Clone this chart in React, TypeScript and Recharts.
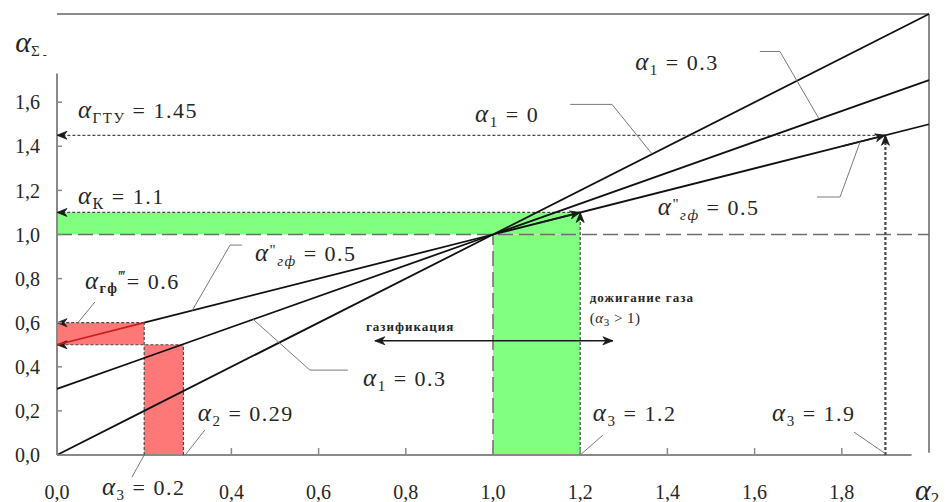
import React from 'react';
import { LineChart, Line, XAxis, YAxis, ReferenceArea, ReferenceLine, ReferenceDot } from 'recharts';

// ---- data ----
const xValues = [0, 0.2, 1, 2];
const lineAlpha1Zero = [0, 0.2, 1, 2];
const lineAlpha1Point3 = [0.3, 0.44, 1, 1.7];
const lineGf = [null, 0.6, 1, 1.5];
const lineGfRed = [0.5, 0.6, null, null];

const xTicks = [0, 0.4, 0.6, 0.8, 1.0, 1.2, 1.4, 1.6, 1.8];
const yTicks = [0, 0.2, 0.4, 0.6, 0.8, 1.0, 1.2, 1.4, 1.6];

const greenAreas = [
  { x1: 0, x2: 1.2, y1: 1.0, y2: 1.1 },
  { x1: 1.0, x2: 1.2, y1: 0, y2: 1.0 },
];
const redAreas = [
  { x1: 0, x2: 0.2, y1: 0.5, y2: 0.6 },
  { x1: 0.2, x2: 0.29, y1: 0, y2: 0.5 },
];

// dotted guides: [from, to], arrow head at "to" when head = true
const dottedGuides = [
  { p: [[1.9, 1.45], [0, 1.45]], head: true, w: 1.2 },
  { p: [[1.2, 1.1], [0, 1.1]], head: true, w: 1.2 },
  { p: [[0.2, 0.6], [0, 0.6]], head: true, w: 1.2 },
  { p: [[0.29, 0.5], [0, 0.5]], head: true, w: 1.2 },
  { p: [[1.9, 0], [1.9, 1.45]], head: true, w: 2.2 },
  { p: [[1.2, 0], [1.2, 1.1]], head: true, w: 1.2 },
  { p: [[0.2, 0], [0.2, 0.6]], head: false, w: 1.2 },
  { p: [[0.29, 0], [0.29, 0.5]], head: false, w: 1.2 },
];

const solidArrows = [
  { p: [[1.1, 1.05], [1.2, 1.1]], both: false },
  { p: [[1.8, 1.4], [1.9, 1.45]], both: false },
  { p: [[0.729, 0.518], [1.275, 0.518]], both: true },
];

const leaders = [
  [[1.177, 1.59], [1.273, 1.59], [1.365, 1.365]],
  [[1.612, 1.83], [1.658, 1.83], [1.748, 1.524]],
  [[1.743, 1.17], [1.796, 1.17], [1.842, 1.42]],
  [[0.424, 0.952], [0.397, 0.952], [0.31, 0.655]],
  [[0.45, 0.615], [0.58, 0.385], [0.667, 0.385]],
  [[0.048, 0.6], [0.087, 0.694]],
  [[0.294, 0], [0.339, 0.113]],
  [[0.2, 0], [0.172, -0.1]],
  [[1.2, 0], [1.252, 0.09]],
  [[1.828, 0.104], [1.897, 0.01]],
];

type Part = { t: string; o?: number; s?: number; i?: boolean; b?: boolean; dx?: number };

const labels: { x: number; y: number; parts: Part[]; size?: number; anchor?: string; ls?: number }[] = [
  { x: -0.096, y: 1.828, size: 30, ls: 0, parts: [{ t: 'α', i: true }, { t: 'Σ', s: 15, o: 4 }, { t: ' -', s: 12, o: 7 }] },
  { x: 1.968, y: -0.204, size: 30, ls: 0, parts: [{ t: 'α', i: true }, { t: '2', s: 17, o: 4 }] },
  { x: 0.048, y: 1.528, parts: [{ t: 'α', i: true, s: 25 }, { t: 'ГТУ', s: 15, o: 5 }, { t: ' = 1.45', o: 0 }] },
  { x: 0.048, y: 1.138, parts: [{ t: 'α', i: true, s: 25 }, { t: 'К', s: 16, o: 5 }, { t: ' = 1.1', o: 0 }] },
  { x: 0.064, y: 0.753, parts: [{ t: 'α', i: true, s: 25 }, { t: 'гф', s: 14, b: true, o: 4 }, { t: '‴', s: 16, o: -7 }, { t: '= 0.6', o: 0 }] },
  { x: 0.454, y: 0.88, parts: [{ t: 'α', i: true, s: 25 }, { t: '"', s: 15, o: -6 }, { t: 'гф', s: 15, i: true, o: 5 }, { t: ' = 0.5', o: 0 }] },
  { x: 0.702, y: 0.313, parts: [{ t: 'α', i: true, s: 25 }, { t: '1', s: 15, o: 5 }, { t: ' = 0.3', o: 0 }] },
  { x: 0.323, y: 0.154, parts: [{ t: 'α', i: true, s: 25 }, { t: '2', s: 15, o: 5 }, { t: ' = 0.29', o: 0 }] },
  { x: 0.103, y: -0.181, parts: [{ t: 'α', i: true, s: 25 }, { t: '3', s: 15, o: 5 }, { t: ' = 0.2', o: 0 }] },
  { x: 1.229, y: 0.154, parts: [{ t: 'α', i: true, s: 25 }, { t: '3', s: 15, o: 5 }, { t: ' = 1.2', o: 0 }] },
  { x: 1.64, y: 0.154, parts: [{ t: 'α', i: true, s: 25 }, { t: '3', s: 15, o: 5 }, { t: ' = 1.9', o: 0 }] },
  { x: 0.959, y: 1.51, parts: [{ t: 'α', i: true, s: 25 }, { t: '1', s: 15, o: 5 }, { t: ' = 0', o: 0 }] },
  { x: 1.326, y: 1.746, parts: [{ t: 'α', i: true, s: 25 }, { t: '1', s: 15, o: 5 }, { t: ' = 0.3', o: 0 }] },
  { x: 1.378, y: 1.088, parts: [{ t: 'α', i: true, s: 25 }, { t: '"', s: 15, o: -6 }, { t: 'гф', s: 15, i: true, o: 5 }, { t: ' = 0.5', o: 0 }] },
  { x: 0.81, y: 0.562, size: 13, anchor: 'middle', ls: 1, parts: [{ t: 'газификация', b: true }] },
  { x: 1.222, y: 0.694, size: 13, ls: 1, parts: [{ t: 'дожигание газа', b: true }] },
  { x: 1.222, y: 0.599, size: 15, ls: 0.5, parts: [{ t: '(' }, { t: 'α', i: true }, { t: '3', s: 11, o: 3 }, { t: ' > 1)', o: 0 }] },
];

const chartData = xValues.map((x, i) => ({
  x,
  a: lineAlpha1Zero[i],
  b: lineAlpha1Point3[i],
  c: lineGf[i],
  r: lineGfRed[i],
}));

const FONT = 'Liberation Serif, Times New Roman, serif';
const TEXT = '#262626';
const FRAME = '#8a8a8a';

function Head({ x, y, fx, fy, color }: any) {
  const dx = x - fx, dy = y - fy;
  const L = Math.hypot(dx, dy) || 1;
  const ux = dx / L, uy = dy / L;
  const len = 10, half = 4;
  const bx = x - ux * len, by = y - uy * len;
  const px = -uy, py = ux;
  const d = `M${x},${y} L${bx + px * half},${by + py * half} L${x - ux * (len - 3)},${y - uy * (len - 3)} L${bx - px * half},${by - py * half} Z`;
  return <path d={d} fill={color} stroke={color} strokeWidth={0.8} />;
}

function arrowShape(opts: { dash?: string; width: number; color: string; end: boolean; start?: boolean }) {
  return (p: any) => {
    const { x1, y1, x2, y2 } = p;
    return (
      <g>
        <line x1={x1} y1={y1} x2={x2} y2={y2} stroke={opts.color} strokeWidth={opts.width} strokeDasharray={opts.dash} />
        {opts.end && <Head x={x2} y={y2} fx={x1} fy={y1} color="#1a1a1a" />}
        {opts.start && <Head x={x1} y={y1} fx={x2} fy={y2} color="#1a1a1a" />}
      </g>
    );
  };
}

function RichText({ x, y, parts, size = 22, anchor = 'start', ls = 1.5 }: any) {
  let cur = 0;
  return (
    <text x={x} y={y} style={{ fontFamily: FONT }} fontSize={size} fill={TEXT} textAnchor={anchor} letterSpacing={ls}>
      {parts.map((p: Part, k: number) => {
        const off = p.o ?? cur;
        const dy = off - cur;
        cur = off;
        return (
          <tspan
            key={k}
            dy={dy}
            dx={p.dx}
            fontSize={p.s ?? size}
            fontStyle={p.i ? 'italic' : 'normal'}
            fontWeight={p.b ? 'bold' : 'normal'}
          >
            {p.t}
          </tspan>
        );
      })}
    </text>
  );
}

const fmt = (v: number) => v.toFixed(1).replace('.', ',');

export default function App() {
  return (
    <div style={{ position: 'absolute', left: 0, top: 0, width: 947, height: 502, background: '#fff' }}>
      <LineChart width={947} height={502} data={chartData} margin={{ top: 14, right: 18, bottom: 0, left: 0 }}>
        <XAxis
          dataKey="x"
          type="number"
          domain={[0, 2]}
          ticks={xTicks}
          interval={0}
          height={47}
          axisLine={false}
          tickLine={{ stroke: FRAME, strokeWidth: 1.5 }}
          tickSize={-7}
          tickMargin={37}
          tickFormatter={fmt}
          tick={{ fontSize: 20, fill: TEXT, style: { fontFamily: FONT } }}
        />
        <YAxis
          type="number"
          domain={[0, 2]}
          ticks={yTicks}
          interval={0}
          width={57}
          axisLine={false}
          tickLine={{ stroke: FRAME, strokeWidth: 1.5 }}
          tickSize={-5}
          tickMargin={22}
          tickFormatter={fmt}
          tick={{ fontSize: 20, fill: TEXT, style: { fontFamily: FONT } }}
        />

        {greenAreas.map((a, i) => (
          <ReferenceArea key={'g' + i} {...a} fill="#80ff80" fillOpacity={1} stroke="none" ifOverflow="visible" />
        ))}
        {redAreas.map((a, i) => (
          <ReferenceArea key={'r' + i} {...a} fill="#ff7878" fillOpacity={1} stroke="none" ifOverflow="visible" />
        ))}

        {/* frame */}
        <ReferenceLine segment={[{ x: 0, y: 0 }, { x: 1.96, y: 0 }]} stroke={FRAME} strokeWidth={2} ifOverflow="visible" />
        <ReferenceLine segment={[{ x: 0, y: 0 }, { x: 0, y: 1.73 }]} stroke={FRAME} strokeWidth={2} ifOverflow="visible" />
        <ReferenceLine segment={[{ x: 0, y: 2 }, { x: 2, y: 2 }]} stroke={FRAME} strokeWidth={2} ifOverflow="visible" />
        <ReferenceLine segment={[{ x: 2, y: 2 }, { x: 2, y: 0.01 }]} stroke={FRAME} strokeWidth={2} ifOverflow="visible" />

        {/* dashed unity lines */}
        <ReferenceLine segment={[{ x: 0, y: 1 }, { x: 2, y: 1 }]} stroke="#6e6e6e" strokeWidth={1.5} strokeDasharray="15 6" ifOverflow="visible" />
        <ReferenceLine segment={[{ x: 1, y: 0 }, { x: 1, y: 1 }]} stroke="#6e6e6e" strokeWidth={1.5} strokeDasharray="15 6" ifOverflow="visible" />

        {dottedGuides.map((g, i) => (
          <ReferenceLine
            key={'d' + i}
            segment={[{ x: g.p[0][0], y: g.p[0][1] }, { x: g.p[1][0], y: g.p[1][1] }]}
            ifOverflow="visible"
            shape={arrowShape({ dash: '3 2', width: g.w, color: '#4a4a4a', end: g.head })}
          />
        ))}

        <Line dataKey="a" stroke="#111" strokeWidth={1.8} dot={false} isAnimationActive={false} />
        <Line dataKey="b" stroke="#111" strokeWidth={1.8} dot={false} isAnimationActive={false} />
        <Line dataKey="c" stroke="#111" strokeWidth={1.8} dot={false} isAnimationActive={false} />
        <Line dataKey="r" stroke="#c81e1e" strokeWidth={1.8} dot={false} isAnimationActive={false} />

        {solidArrows.map((g, i) => (
          <ReferenceLine
            key={'s' + i}
            segment={[{ x: g.p[0][0], y: g.p[0][1] }, { x: g.p[1][0], y: g.p[1][1] }]}
            ifOverflow="visible"
            shape={arrowShape({ width: 1.4, color: '#1a1a1a', end: true, start: g.both })}
          />
        ))}

        {leaders.flatMap((pts, i) =>
          pts.slice(1).map((pt, j) => (
            <ReferenceLine
              key={'l' + i + '-' + j}
              segment={[{ x: pts[j][0], y: pts[j][1] }, { x: pt[0], y: pt[1] }]}
              stroke="#7a7a7a"
              strokeWidth={1}
              ifOverflow="visible"
            />
          ))
        )}

        {labels.map((l, i) => (
          <ReferenceDot
            key={'t' + i}
            x={l.x}
            y={l.y}
            ifOverflow="visible"
            shape={(p: any) => (
              <RichText x={p.cx} y={p.cy} parts={l.parts} size={l.size ?? 22} anchor={l.anchor ?? 'start'} ls={l.ls ?? 1.5} />
            )}
          />
        ))}
      </LineChart>
    </div>
  );
}
